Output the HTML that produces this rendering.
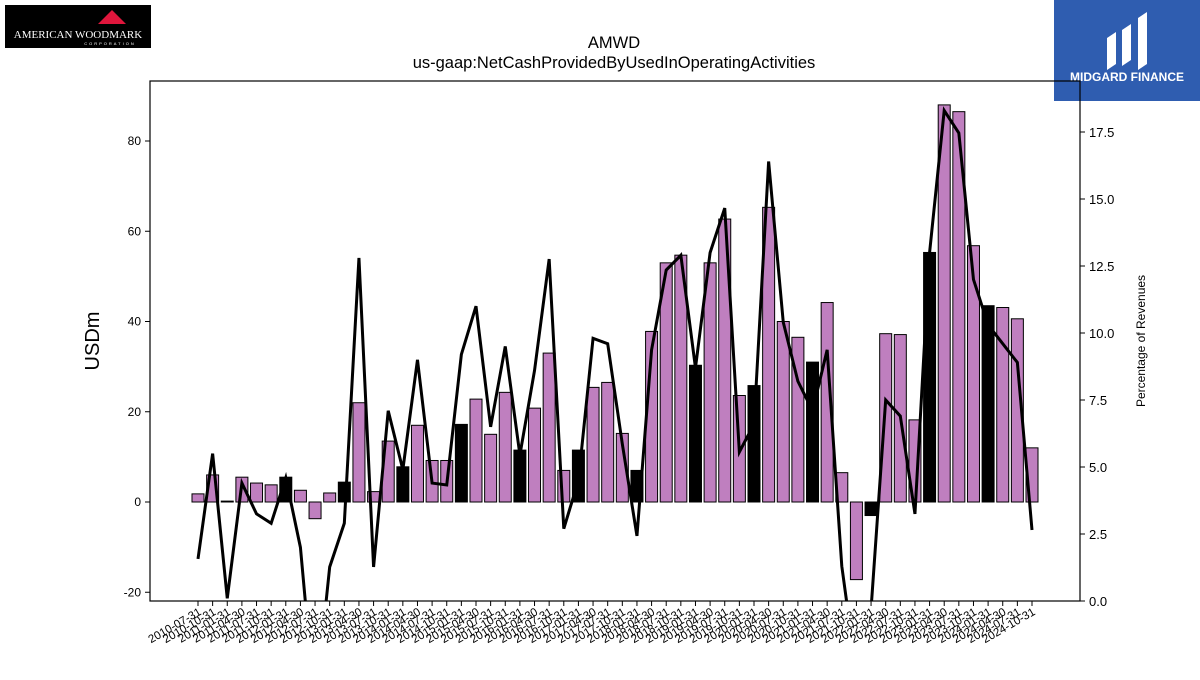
<!DOCTYPE html>
<html><head><meta charset="utf-8"><style>
body{margin:0;background:#fff;font-family:"Liberation Sans",sans-serif}
</style></head><body>
<svg id="c" width="1200" height="675" xmlns="http://www.w3.org/2000/svg">
<rect x="5" y="5" width="146" height="43" fill="#000"/>
<polygon points="98,24 112,10 126,24" fill="#e0163c"/>
<text x="78" y="38" fill="#fff" font-family="Liberation Serif,serif" font-size="11" text-anchor="middle">AMERICAN WOODMARK</text>
<text x="110" y="45" fill="#fff" font-size="4" text-anchor="middle" letter-spacing="2">CORPORATION</text>
<rect x="1054" y="0" width="146" height="101" fill="#2f5db0"/>
<path d="M1107,70 L1107,38 L1116,32 L1116,64 Z M1122,66 L1122,30 L1131,24 L1131,60 Z M1138,70 L1138,18 L1147,12 L1147,64 Z" fill="#fff"/>
<text x="1127" y="81" fill="#fff" font-size="12" font-weight="bold" text-anchor="middle">MIDGARD FINANCE</text>
<text x="614" y="48" font-size="16.5" text-anchor="middle">AMWD</text>
<text x="614" y="68" font-size="16.5" text-anchor="middle">us-gaap:NetCashProvidedByUsedInOperatingActivities</text>
<text transform="translate(99,341) rotate(-90)" font-size="20" text-anchor="middle">USDm</text>
<text transform="translate(1145,341) rotate(-90)" font-size="12" text-anchor="middle">Percentage of Revenues</text>
<g id="g"></g>
</svg>
<script>
const categories=["2010-07-31","2010-10-31","2011-01-31","2011-04-30","2011-07-31","2011-10-31","2012-01-31","2012-04-30","2012-07-31","2012-10-31","2013-01-31","2013-04-30","2013-07-31","2013-10-31","2014-01-31","2014-04-30","2014-07-31","2014-10-31","2015-01-31","2015-04-30","2015-07-31","2015-10-31","2016-01-31","2016-04-30","2016-07-31","2016-10-31","2017-01-31","2017-04-30","2017-07-31","2017-10-31","2018-01-31","2018-04-30","2018-07-31","2018-10-31","2019-01-31","2019-04-30","2019-07-31","2019-10-31","2020-01-31","2020-04-30","2020-07-31","2020-10-31","2021-01-31","2021-04-30","2021-07-31","2021-10-31","2022-01-31","2022-04-30","2022-07-31","2022-10-31","2023-01-31","2023-04-30","2023-07-31","2023-10-31","2024-01-31","2024-04-30","2024-07-31","2024-10-31"];
const cashFlow=[1.8,6,0.2,5.5,4.2,3.8,5.5,2.6,-3.7,2,4.4,22,2.3,13.5,7.8,17,9.2,9.2,17.2,22.8,15,24.3,11.5,20.8,33,7,11.5,25.4,26.5,15.2,7,37.8,53,54.7,30.3,53,62.7,23.6,25.8,65.3,40,36.5,31,44.2,6.5,-17.2,-3,37.3,37.1,18.2,55.3,88,86.5,56.8,43.5,43.1,40.6,12];
const pctRevenue=[1.57,5.5,0.1,4.4,3.25,2.9,4.6,2.0,-4,1.27,2.9,12.8,1.27,7.1,4.9,9.0,4.4,4.33,9.2,11.0,6.5,9.5,5.45,8.6,12.76,2.7,4.5,9.8,9.6,5.86,2.43,9.37,12.35,12.9,8.7,13.0,14.66,5.56,6.6,16.4,10.4,8.2,7.1,9.37,1.3,-2.7,-0.3,7.5,6.9,3.25,13.0,18.3,17.46,12.0,10.3,9.6,8.9,2.65];
const leftTicks=[-20,0,20,40,60,80];
const rightTicks=[0,2.5,5,7.5,10,12.5,15,17.5];
const NS="http://www.w3.org/2000/svg";
const g=document.getElementById('g');
const L=150,R=1080,T=81,B=601;
const x=i=>198+i*(1032-198)/(categories.length-1);
const y=v=>502-v*4.5125;
const y2=v=>601-v*26.8;
function el(t,a){const e=document.createElementNS(NS,t);for(const k in a)e.setAttribute(k,a[k]);g.appendChild(e);return e;}
const cp=el('clipPath',{id:'clip'});const cr=document.createElementNS(NS,'rect');cr.setAttribute('x',L);cr.setAttribute('y',T);cr.setAttribute('width',R-L);cr.setAttribute('height',B-T);cp.appendChild(cr);
cashFlow.forEach((v,i)=>{const top=Math.min(y(v),y(0)),h=Math.abs(y(v)-y(0));
const r=el('rect',{x:x(i)-6,y:top,width:12,height:Math.max(h,0.8),fill:i%4==2?'#000':'#bf7fbf',stroke:'#000','stroke-width':1});

});
const pl=el('polyline',{points:pctRevenue.map((v,i)=>x(i)+','+y2(v)).join(' '),fill:'none',stroke:'#000','stroke-width':3,'clip-path':'url(#clip)'});


const fr=el('rect',{x:L,y:T,width:R-L,height:B-T,fill:'none',stroke:'#000','stroke-width':1.2});


leftTicks.forEach(v=>{el('line',{x1:L-5,x2:L,y1:y(v),y2:y(v),stroke:'#000'});
const t=el('text',{x:L-9,y:y(v)+4,'font-size':12,'text-anchor':'end'});t.textContent=v;

});
rightTicks.forEach(v=>{el('line',{x1:R,x2:R+5,y1:y2(v),y2:y2(v),stroke:'#000'});
const t=el('text',{x:R+9,y:y2(v)+5,'font-size':13});t.textContent=v.toFixed(1);

});
categories.forEach((c,i)=>{el('line',{x1:x(i),x2:x(i),y1:B,y2:B+5,stroke:'#000'});
const t=el('text',{transform:`translate(${x(i)+4},${B+13}) rotate(-30)`,'font-size':11.5,'text-anchor':'end'});t.textContent=c;

});
</script>
</body></html>
